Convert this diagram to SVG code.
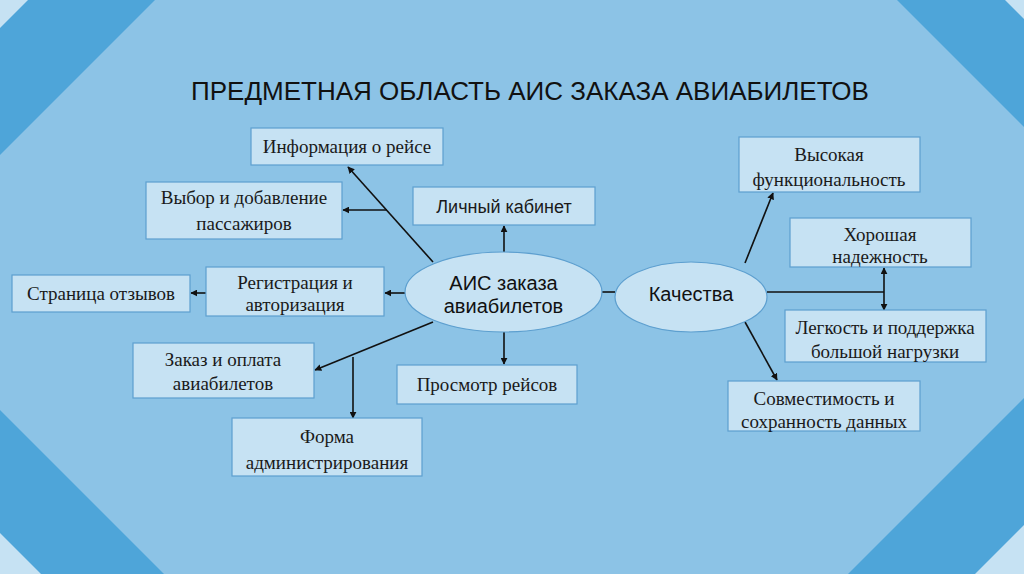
<svg xmlns="http://www.w3.org/2000/svg" width="1024" height="574" viewBox="0 0 1024 574">
<defs>
<style>
.box{fill:#c6e2f3;stroke:#5d9fcf;stroke-width:1.2}
.ell{fill:#c6e2f3;stroke:#5d9fcf;stroke-width:1.2}
.t{font-family:"Liberation Serif",serif;font-size:19px;fill:#1a1a1a;text-anchor:middle}
.s{font-family:"Liberation Sans",Arial,sans-serif;font-size:18px;fill:#1a1a1a;text-anchor:middle}
.e{font-family:"Liberation Sans",Arial,sans-serif;font-size:20px;fill:#111;text-anchor:middle}
.c{stroke:#111;stroke-width:1.6;fill:none}
</style>
<marker id="ar" viewBox="0 0 10 10" refX="9" refY="5" markerWidth="7" markerHeight="7" markerUnits="userSpaceOnUse" orient="auto-start-reverse">
<path d="M0,0 L10,5 L0,10 z" fill="#111"/>
</marker>
</defs>
<rect x="0" y="0" width="1024" height="574" fill="#8cc3e6"/>
<g id="corners">
<polygon points="0,0 155,0 0,155" fill="#4ea5d9"/>
<polygon points="0,0 28,0 0,28" fill="#c6e2f3"/>
<polygon points="897,0 1024,0 1024,127" fill="#4ea5d9"/>
<polygon points="1005,0 1024,0 1024,19" fill="#c6e2f3"/>
<polygon points="0,410 0,574 164,574" fill="#4ea5d9"/>
<polygon points="0,533 0,574 41,574" fill="#c6e2f3"/>
<polygon points="1024,398 1024,574 848,574" fill="#4ea5d9"/>
<polygon points="1024,525 1024,574 975,574" fill="#c6e2f3"/>
</g>
<text x="530" y="100" font-family="Liberation Sans,Arial,sans-serif" font-size="26" fill="#111" text-anchor="middle">ПРЕДМЕТНАЯ ОБЛАСТЬ АИС ЗАКАЗА АВИАБИЛЕТОВ</text>
<g id="connectors">
<line class="c" x1="602" y1="292" x2="615" y2="292" stroke="#555"/>
<line class="c" x1="433" y1="262" x2="348" y2="167" marker-end="url(#ar)"/>
<line class="c" x1="387" y1="210" x2="343" y2="210" marker-end="url(#ar)"/>
<line class="c" x1="504" y1="252" x2="504" y2="226" marker-end="url(#ar)"/>
<line class="c" x1="405" y1="293" x2="385" y2="293" marker-end="url(#ar)"/>
<line class="c" x1="206" y1="293" x2="191" y2="293" marker-end="url(#ar)"/>
<line class="c" x1="433" y1="322" x2="315" y2="370" marker-end="url(#ar)"/>
<line class="c" x1="353" y1="357" x2="353" y2="418" marker-end="url(#ar)"/>
<line class="c" x1="504" y1="332" x2="504" y2="364" marker-end="url(#ar)"/>
<line class="c" x1="745" y1="263" x2="773" y2="193" marker-end="url(#ar)"/>
<line class="c" x1="767" y1="292" x2="884" y2="292"/>
<line class="c" x1="884" y1="268" x2="884" y2="310" marker-start="url(#ar)" marker-end="url(#ar)"/>
<line class="c" x1="745" y1="322" x2="777" y2="380" marker-end="url(#ar)"/>
</g>
<g id="n-info"><rect class="box" x="251" y="128" width="192" height="37"/><text class="t" x="347" y="153">Информация о рейсе</text></g>
<g id="n-vybor"><rect class="box" x="146" y="182" width="196" height="57"/><text class="t" x="244" y="204">Выбор и добавление</text><text class="t" x="244" y="230">пассажиров</text></g>
<g id="n-lk"><rect class="box" x="413" y="187" width="182" height="38"/><text class="s" x="504" y="213">Личный кабинет</text></g>
<g id="n-otz"><rect class="box" x="12" y="275" width="178" height="37"/><text class="t" x="101" y="300">Страница отзывов</text></g>
<g id="n-reg"><rect class="box" x="206" y="267" width="178" height="49"/><text class="t" x="295" y="289">Регистрация и</text><text class="t" x="295" y="311">авторизация</text></g>
<g id="n-zakaz"><rect class="box" x="133" y="343" width="181" height="55"/><text class="t" x="223" y="366">Заказ и оплата</text><text class="t" x="223" y="390">авиабилетов</text></g>
<g id="n-prosmotr"><rect class="box" x="397" y="365" width="180" height="39"/><text class="t" x="487" y="391">Просмотр рейсов</text></g>
<g id="n-forma"><rect class="box" x="232" y="418" width="190" height="58"/><text class="t" x="327" y="443">Форма</text><text class="t" x="327" y="469">администрирования</text></g>
<g id="n-vys"><rect class="box" x="739" y="137" width="181" height="55"/><text class="t" x="829" y="161">Высокая</text><text class="t" x="829" y="186">функциональность</text></g>
<g id="n-hor"><rect class="box" x="790" y="218" width="181" height="49"/><text class="t" x="880" y="241">Хорошая</text><text class="t" x="880" y="263">надежность</text></g>
<g id="n-leg"><rect class="box" x="785" y="310" width="201" height="52"/><text class="t" x="885" y="334">Легкость и поддержка</text><text class="t" x="885" y="358">большой нагрузки</text></g>
<g id="n-sovm"><rect class="box" x="728" y="381" width="192" height="50"/><text class="t" x="824" y="405">Совместимость и</text><text class="t" x="824" y="428">сохранность данных</text></g>
<g id="n-ais"><ellipse class="ell" cx="503.5" cy="292" rx="98.5" ry="40"/><text class="e" x="503.5" y="290">АИС заказа</text><text class="e" x="503.5" y="313">авиабилетов</text></g>
<g id="n-kach"><ellipse class="ell" cx="691" cy="297" rx="76" ry="35"/><text class="e" x="691" y="301" font-size="19">Качества</text></g>
</svg>
